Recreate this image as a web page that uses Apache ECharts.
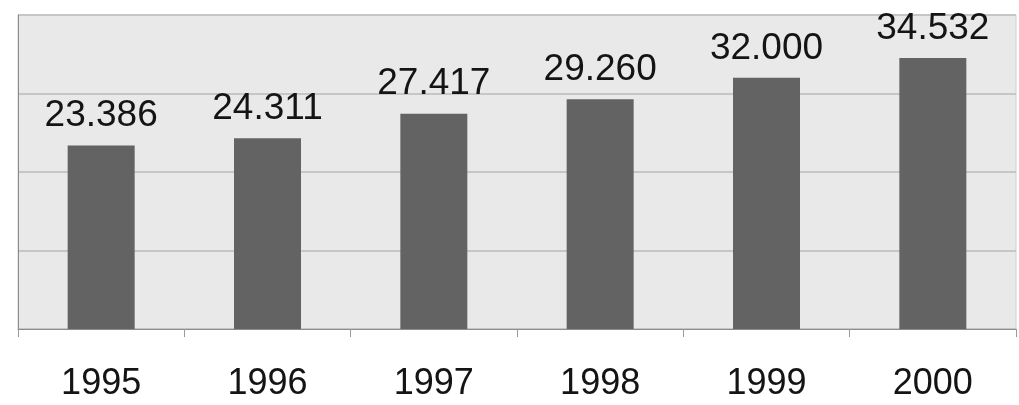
<!DOCTYPE html>
<html>
<head>
<meta charset="utf-8">
<style>
  html, body { margin: 0; padding: 0; background: #ffffff; }
  #chart { width: 1019px; height: 405px; }
</style>
<script src="https://cdn.jsdelivr.net/npm/echarts@6/dist/echarts.min.js"></script>
</head>
<body>
<div id="chart"></div>
<script>
const categories = ['1995', '1996', '1997', '1998', '1999', '2000'];
const values = [23.386, 24.311, 27.417, 29.260, 32.000, 34.532];
const valueLabels = ['23.386', '24.311', '27.417', '29.260', '32.000', '34.532'];

const chart = echarts.init(document.getElementById('chart'));
chart.setOption({
  animation: false,
  backgroundColor: '#ffffff',
  grid: {
    left: 18, right: 3, top: 15, bottom: 76,
    show: true, backgroundColor: '#e9e9e9', borderColor: '#d0d0d0', borderWidth: 1
  },
  xAxis: {
    type: 'category',
    data: categories,
    axisLine: { lineStyle: { color: '#8c8c8c', width: 1 } },
    axisTick: { show: true, length: 8, lineStyle: { color: '#9a9a9a' } },
    axisLabel: { color: '#141414', fontSize: 36, fontFamily: 'Liberation Sans', margin: 37 }
  },
  yAxis: {
    type: 'value',
    min: 0, max: 40, interval: 10,
    axisLine: { show: true, lineStyle: { color: '#8c8c8c' } },
    axisTick: { show: false },
    axisLabel: { show: false },
    splitLine: { lineStyle: { color: '#c6c6c6', width: 2 } }
  },
  series: [{
    type: 'bar',
    data: values,
    barWidth: 67,
    itemStyle: { color: '#636363' },
    label: {
      show: true, position: 'top', distance: 11,
      color: '#141414', fontSize: 37, fontFamily: 'Liberation Sans',
      formatter: function (p) { return valueLabels[p.dataIndex]; }
    }
  }]
});
</script>
</body>
</html>
